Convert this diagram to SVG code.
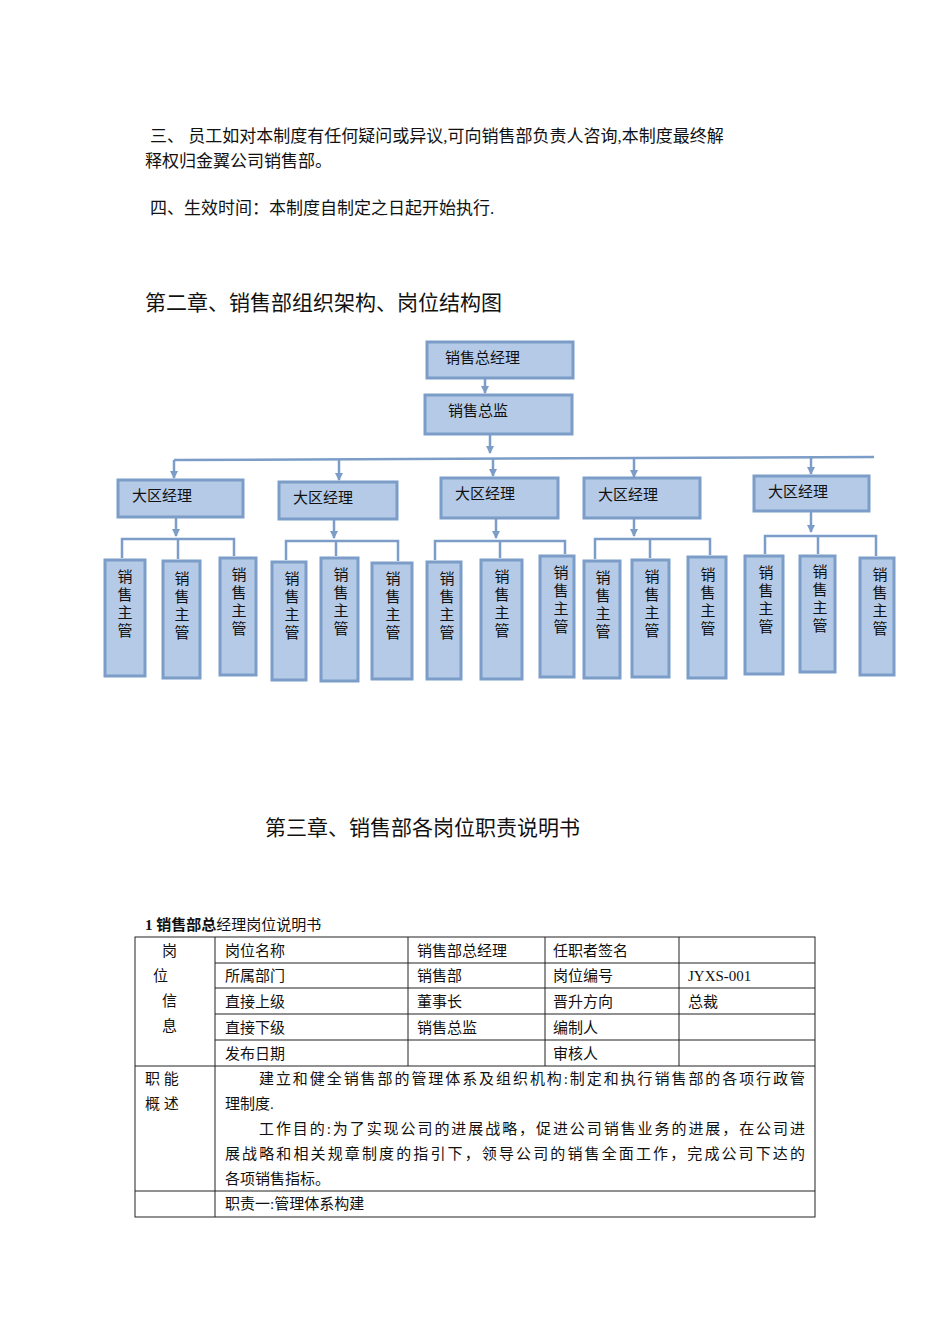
<svg xmlns="http://www.w3.org/2000/svg" width="950" height="1344" viewBox="0 0 950 1344">
<style>
text{font-family:"Liberation Serif","Noto Sans CJK SC",serif;fill:#111}
.b{fill:#b5cae7;stroke:#7b9dc8;stroke-width:3}
.bt{font-size:15px}
.vt{font-size:15px;text-anchor:middle}
.c{stroke:#7b9dc8;stroke-width:2.5;fill:none}
.a{fill:#7b9dc8}
.t{font-size:15px}
.g{stroke:#222;stroke-width:1;fill:none}
</style>
<defs><marker id="ar" markerWidth="8" markerHeight="8" refX="7" refY="4" orient="auto" markerUnits="userSpaceOnUse"><path d="M0,0 L8,4 L0,8 z" class="a"/></marker></defs>
<rect width="950" height="1344" fill="#fff"/>
<text x="150" y="142" font-size="17">三、 员工如对本制度有任何疑问或异议,可向销售部负责人咨询,本制度最终解</text>
<text x="145" y="167" font-size="17">释权归金翼公司销售部。</text>
<text x="150" y="214" font-size="17">四、生效时间：本制度自制定之日起开始执行.</text>
<text x="145" y="310" font-size="21">第二章、销售部组织架构、岗位结构图</text>
<text x="265" y="835" font-size="21">第三章、销售部各岗位职责说明书</text>
<g id="connectors">
<path class="c" d="M485,378 V393" marker-end="url(#ar)"/>
<path class="c" d="M490,434 V453" marker-end="url(#ar)"/>
<path class="c" d="M174,460 L874,457"/>
<path class="c" d="M174,460 V478" marker-end="url(#ar)"/>
<path class="c" d="M339,459 V480" marker-end="url(#ar)"/>
<path class="c" d="M493,458 V476" marker-end="url(#ar)"/>
<path class="c" d="M634,458 V477" marker-end="url(#ar)"/>
<path class="c" d="M811,457 V474" marker-end="url(#ar)"/>
<path class="c" d="M176,517 V536" marker-end="url(#ar)"/>
<path class="c" d="M122,558 V539 H234 V556 M178,539 V559"/>
<path class="c" d="M334,519 V538" marker-end="url(#ar)"/>
<path class="c" d="M286,560 V541 H398 V561 M336,541 V556"/>
<path class="c" d="M496,518 V538" marker-end="url(#ar)"/>
<path class="c" d="M435,560 V541 H565 V554 M500,541 V558"/>
<path class="c" d="M634,518 V536" marker-end="url(#ar)"/>
<path class="c" d="M595,559 V539 H710 V555 M650,539 V558"/>
<path class="c" d="M811,511 V532" marker-end="url(#ar)"/>
<path class="c" d="M765,554 V536 H876 V556 M818,536 V554"/>
</g>
<g id="n-gm"><rect class="b" x="427" y="342" width="146" height="36"/><text class="bt" x="445" y="363">销售总经理</text></g>
<g id="n-dir"><rect class="b" x="425" y="395" width="147" height="39"/><text class="bt" x="448" y="416">销售总监</text></g>
<g id="n-r1"><rect class="b" x="118" y="480" width="125" height="37"/><text class="bt" x="132" y="501">大区经理</text></g>
<g id="n-r2"><rect class="b" x="279" y="482" width="118" height="37"/><text class="bt" x="293" y="503">大区经理</text></g>
<g id="n-r3"><rect class="b" x="441" y="478" width="117" height="40"/><text class="bt" x="455" y="499">大区经理</text></g>
<g id="n-r4"><rect class="b" x="584" y="478" width="116" height="40"/><text class="bt" x="598" y="500">大区经理</text></g>
<g id="n-r5"><rect class="b" x="754" y="476" width="115" height="35"/><text class="bt" x="768" y="497">大区经理</text></g>
<g id="n-s1"><rect class="b" x="105" y="560" width="40" height="116"/><text class="vt"><tspan x="125" y="582">销</tspan><tspan x="125" y="600">售</tspan><tspan x="125" y="618">主</tspan><tspan x="125" y="636">管</tspan></text></g>
<g id="n-s2"><rect class="b" x="163" y="561" width="37" height="117"/><text class="vt"><tspan x="182" y="584">销</tspan><tspan x="182" y="602">售</tspan><tspan x="182" y="620">主</tspan><tspan x="182" y="638">管</tspan></text></g>
<g id="n-s3"><rect class="b" x="220" y="558" width="36" height="117"/><text class="vt"><tspan x="239" y="580">销</tspan><tspan x="239" y="598">售</tspan><tspan x="239" y="616">主</tspan><tspan x="239" y="634">管</tspan></text></g>
<g id="n-s4"><rect class="b" x="272" y="562" width="34" height="118"/><text class="vt"><tspan x="292" y="584">销</tspan><tspan x="292" y="602">售</tspan><tspan x="292" y="620">主</tspan><tspan x="292" y="638">管</tspan></text></g>
<g id="n-s5"><rect class="b" x="321" y="558" width="37" height="123"/><text class="vt"><tspan x="341" y="580">销</tspan><tspan x="341" y="598">售</tspan><tspan x="341" y="616">主</tspan><tspan x="341" y="634">管</tspan></text></g>
<g id="n-s6"><rect class="b" x="372" y="563" width="40" height="116"/><text class="vt"><tspan x="393" y="584">销</tspan><tspan x="393" y="602">售</tspan><tspan x="393" y="620">主</tspan><tspan x="393" y="638">管</tspan></text></g>
<g id="n-s7"><rect class="b" x="427" y="562" width="34" height="117"/><text class="vt"><tspan x="447" y="584">销</tspan><tspan x="447" y="602">售</tspan><tspan x="447" y="620">主</tspan><tspan x="447" y="638">管</tspan></text></g>
<g id="n-s8"><rect class="b" x="481" y="560" width="41" height="119"/><text class="vt"><tspan x="502" y="582">销</tspan><tspan x="502" y="600">售</tspan><tspan x="502" y="618">主</tspan><tspan x="502" y="636">管</tspan></text></g>
<g id="n-s9"><rect class="b" x="540" y="556" width="34" height="121"/><text class="vt"><tspan x="561" y="578">销</tspan><tspan x="561" y="596">售</tspan><tspan x="561" y="614">主</tspan><tspan x="561" y="632">管</tspan></text></g>
<g id="n-s10"><rect class="b" x="584" y="561" width="36" height="117"/><text class="vt"><tspan x="603" y="583">销</tspan><tspan x="603" y="601">售</tspan><tspan x="603" y="619">主</tspan><tspan x="603" y="637">管</tspan></text></g>
<g id="n-s11"><rect class="b" x="632" y="560" width="37" height="117"/><text class="vt"><tspan x="652" y="582">销</tspan><tspan x="652" y="600">售</tspan><tspan x="652" y="618">主</tspan><tspan x="652" y="636">管</tspan></text></g>
<g id="n-s12"><rect class="b" x="688" y="557" width="38" height="121"/><text class="vt"><tspan x="708" y="580">销</tspan><tspan x="708" y="598">售</tspan><tspan x="708" y="616">主</tspan><tspan x="708" y="634">管</tspan></text></g>
<g id="n-s13"><rect class="b" x="745" y="556" width="38" height="118"/><text class="vt"><tspan x="766" y="578">销</tspan><tspan x="766" y="596">售</tspan><tspan x="766" y="614">主</tspan><tspan x="766" y="632">管</tspan></text></g>
<g id="n-s14"><rect class="b" x="800" y="556" width="35" height="116"/><text class="vt"><tspan x="820" y="577">销</tspan><tspan x="820" y="595">售</tspan><tspan x="820" y="613">主</tspan><tspan x="820" y="631">管</tspan></text></g>
<g id="n-s15"><rect class="b" x="860" y="558" width="34" height="117"/><text class="vt"><tspan x="880" y="580">销</tspan><tspan x="880" y="598">售</tspan><tspan x="880" y="616">主</tspan><tspan x="880" y="634">管</tspan></text></g>
<g id="table">
<text x="145" y="930" font-size="15"><tspan font-weight="bold">1 销售部总</tspan>经理岗位说明书</text>
<rect class="g" x="135" y="937" width="680" height="280"/>
<path class="g" d="M215,937 V1217 M408,937 V1066 M545,937 V1066 M679,937 V1066 M215,963 H815 M215,988 H815 M215,1014 H815 M215,1040 H815 M135,1066 H815 M135,1191 H815"/>
<text class="t" x="162" y="956">岗</text><text class="t" x="153" y="981">位</text><text class="t" x="162" y="1006">信</text><text class="t" x="162" y="1031">息</text>
<text class="t" x="225" y="956">岗位名称</text><text class="t" x="417" y="956">销售部总经理</text><text class="t" x="553" y="956">任职者签名</text>
<text class="t" x="225" y="981">所属部门</text><text class="t" x="417" y="981">销售部</text><text class="t" x="553" y="981">岗位编号</text><text class="t" x="688" y="981">JYXS-001</text>
<text class="t" x="225" y="1007">直接上级</text><text class="t" x="417" y="1007">董事长</text><text class="t" x="553" y="1007">晋升方向</text><text class="t" x="688" y="1007">总裁</text>
<text class="t" x="225" y="1033">直接下级</text><text class="t" x="417" y="1033">销售总监</text><text class="t" x="553" y="1033">编制人</text>
<text class="t" x="225" y="1059">发布日期</text><text class="t" x="553" y="1059">审核人</text>
<text class="t" x="145" y="1084">职 能</text><text class="t" x="145" y="1109">概 述</text>
<text class="t" x="259" y="1084" textLength="546">建立和健全销售部的管理体系及组织机构:制定和执行销售部的各项行政管</text>
<text class="t" x="225" y="1109">理制度.</text>
<text class="t" x="259" y="1134" textLength="546">工作目的:为了实现公司的进展战略，促进公司销售业务的进展，在公司进</text>
<text class="t" x="225" y="1159" textLength="580">展战略和相关规章制度的指引下，领导公司的销售全面工作，完成公司下达的</text>
<text class="t" x="225" y="1184">各项销售指标。</text>
<text class="t" x="225" y="1209">职责一:管理体系构建</text>
</g>
</svg>
